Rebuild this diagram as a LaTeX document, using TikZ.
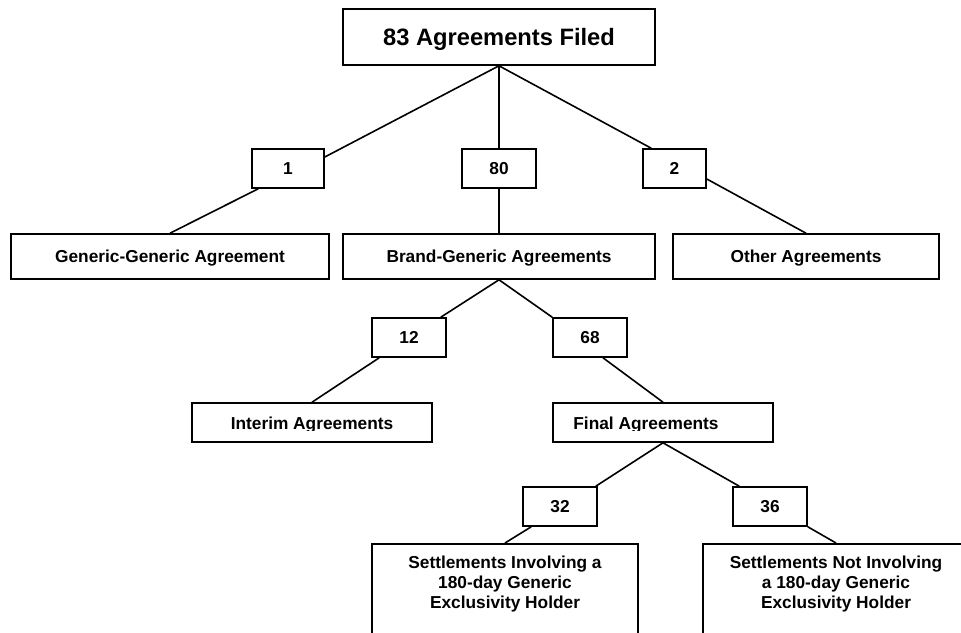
\documentclass[tikz,border=0pt]{standalone}
\usepackage{fontspec}
\setmainfont{Liberation Sans}

\begin{document}
\begin{tikzpicture}[x=1pt,y=-1pt]
\tikzset{
  boxfont/.style={font=\fontsize{17.3}{20}\selectfont\bfseries},
  catbox/.style={draw,line width=1.6pt,inner sep=0pt,boxfont,text height=12.4pt,text depth=0pt},
  countbox/.style={catbox,minimum width=74pt,minimum height=39pt},
  boxtext/.style={boxfont,inner sep=0pt},
  link/.style={line width=1.6pt}
}
\useasboundingbox (0,0) rectangle (961,632);
\node[catbox,minimum width=312pt,minimum height=56pt,font=\fontsize{23.7}{28}\selectfont\bfseries,text height=17pt] (n_top) at (499,37) {83 Agreements Filed};
\node[countbox,minimum width=72pt] (n_c1) at (288,168.5) {1};
\node[countbox] (n_c80) at (499,168.5) {80};
\node[countbox,minimum width=63pt] (n_c2) at (674.5,168.5) {2};
\node[catbox,minimum width=318pt,minimum height=45pt] (n_gg) at (170,256.5) {Generic-Generic Agreement};
\node[catbox,minimum width=312pt,minimum height=45pt] (n_bg) at (499,256.5) {Brand-Generic Agreements};
\node[catbox,minimum width=266pt,minimum height=45pt] (n_oth) at (806,256.5) {Other Agreements};
\node[countbox] (n_c12) at (409,337.5) {12};
\node[countbox] (n_c68) at (590,337.5) {68};
\node[catbox,minimum width=240pt,minimum height=39pt] (n_int) at (312,422.5) {};
\node[catbox,minimum width=220pt,minimum height=39pt] (n_fin) at (663,422.5) {};
% lower part of these two labels is cut off
\begin{scope}
\clip (0,403) rectangle (961,430);
\node[boxtext,anchor=base] (t_int) at (312,429.5) {Interim Agreements};
\node[boxtext,anchor=base] (t_fin) at (646,429.5) {Final Agreements};
\end{scope}
\node[countbox] (n_c32) at (560,506.5) {32};
\node[countbox] (n_c36) at (770,506.5) {36};
\node[catbox,anchor=north,minimum width=266pt,minimum height=120pt] (n_inv) at (505,543) {};
\node[catbox,anchor=north,minimum width=266pt,minimum height=120pt] (n_notinv) at (836,543) {};
\node[boxtext,align=center,anchor=north] (t_inv) at (505,556) {Settlements Involving a\\180-day Generic\\Exclusivity Holder};
\node[boxtext,align=center,anchor=north] (t_notinv) at (836,556) {Settlements Not Involving\\a 180-day Generic\\Exclusivity Holder};
\draw[link] (n_top.south) -- ([yshift=11.5pt]n_c1.east);
\draw[link] (n_top.south) -- (n_c80.north);
\draw[link] (n_top.south) -- ([xshift=9pt]n_c2.north west);
\draw[link] ([xshift=7pt]n_c1.south west) -- (n_gg.north);
\draw[link] (n_c80.south) -- (n_bg.north);
\draw[link] ([yshift=-10.5pt]n_c2.east) -- (n_oth.north);
\draw[link] (n_bg.south) -- ([xshift=-6pt]n_c12.north east);
\draw[link] (n_bg.south) -- (n_c68.north west);
\draw[link] ([xshift=8pt]n_c12.south west) -- (n_int.north);
\draw[link] ([xshift=13pt]n_c68.south) -- (n_fin.north);
\draw[link] (n_fin.south) -- ([xshift=-2pt]n_c32.north east);
\draw[link] (n_fin.south) -- ([xshift=7pt]n_c36.north west);
\draw[link] ([xshift=9pt]n_c32.south west) -- (n_inv.north);
\draw[link] (n_c36.south east) -- (n_notinv.north);
\end{tikzpicture}
\end{document}
